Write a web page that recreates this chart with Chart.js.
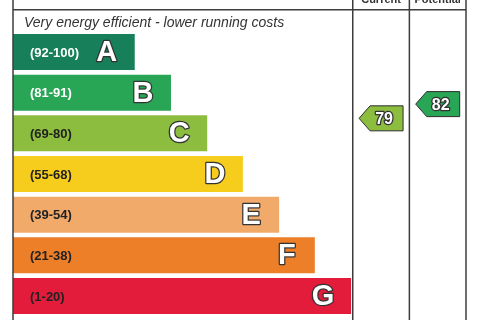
<!DOCTYPE html>
<html>
<head>
<meta charset="utf-8">
<script src="https://cdn.jsdelivr.net/npm/chart.js@4"></script>
<style>
  html, body { margin: 0; padding: 0; background: #fff; }
  #wrap { width: 480px; height: 320px; }
</style>
</head>
<body>
<div id="wrap"><canvas id="epc" width="480" height="320"></canvas></div>
<script>
/* =========================
   DATA
========================= */
const bands = ["A", "B", "C", "D", "E", "F", "G"];
const bandMin = [92, 81, 69, 55, 39, 21, 1];
const bandMax = [100, 91, 80, 68, 54, 38, 20];
const barLength = [2.15, 2.79, 3.43, 4.06, 4.70, 5.33, 5.97];

const ratingColumns = ["Current", "Potential"];
const ratingScores = [79, 82];

const topNote = "Very energy efficient - lower running costs";

/* =========================
   STYLE
========================= */
const bandColours = ["#17805a", "#29a556", "#8cbd3f", "#f6cd1d", "#f2aa6b", "#ec7f28", "#e31c3b"];
const lineColour = "#3d3d3d";
const fontFamily = '"Liberation Sans", Arial, sans-serif';
const barColumns = 6; // width of the bar area, in x units; each rating column is 1 unit

// band index of a score and its place inside that band row
function bandOf(score) {
  return bandMin.findIndex((lo, i) => score >= lo && score <= bandMax[i]);
}

function rowPosition(score) {
  const i = bandOf(score);
  const f = (score - bandMin[i] + 1) / (bandMax[i] - bandMin[i] + 1);
  return i + 0.885 * (0.5 - f);
}

const arrowPoints = ratingScores.map((s, i) => ({ x: barColumns + i + 0.5, y: rowPosition(s) }));

/* =========================
   PLUGIN: TABLE, LABELS, ARROWS
========================= */
const epcPlugin = {
  id: "epcTable",
  afterDatasetsDraw(chart) {
    const { ctx, chartArea, scales } = chart;
    const x = scales.x;
    ctx.save();

    // range labels and band letters
    const bars = chart.getDatasetMeta(0).data;
    bars.forEach((bar, i) => {
      ctx.textBaseline = "middle";
      ctx.textAlign = "left";
      ctx.font = "bold 13px " + fontFamily;
      ctx.fillStyle = i < 2 ? "#ffffff" : "#222222";
      ctx.fillText("(" + bandMin[i] + "-" + bandMax[i] + ")", bar.base + 17, bar.y + 1);

      ctx.textAlign = "center";
      ctx.font = "bold 29px " + fontFamily;
      ctx.lineJoin = "round";
      ctx.lineWidth = 2.5;
      ctx.strokeStyle = "#333333";
      ctx.strokeText(bands[i], bar.x - 28, bar.y + 1);
      ctx.fillStyle = "#ffffff";
      ctx.fillText(bands[i], bar.x - 28, bar.y + 1);
    });

    // rating arrows
    const pts = chart.getDatasetMeta(1).data;
    pts.forEach((pt, i) => {
      const cx = pt.x, cy = pt.y;
      const w = 44, h = 25, tip = 11;
      const l = cx - w / 2, r = cx + w / 2;
      ctx.beginPath();
      ctx.moveTo(l, cy);
      ctx.lineTo(l + tip, cy - h / 2);
      ctx.lineTo(r, cy - h / 2);
      ctx.lineTo(r, cy + h / 2);
      ctx.lineTo(l + tip, cy + h / 2);
      ctx.closePath();
      ctx.fillStyle = bandColours[bandOf(ratingScores[i])];
      ctx.fill();
      ctx.lineWidth = 1;
      ctx.strokeStyle = "#2d2d2d";
      ctx.stroke();

      ctx.font = "bold 16px " + fontFamily;
      ctx.textAlign = "center";
      ctx.textBaseline = "middle";
      ctx.lineWidth = 2.5;
      ctx.strokeStyle = "#333333";
      ctx.strokeText(String(ratingScores[i]), cx + 3, cy + 1);
      ctx.fillStyle = "#ffffff";
      ctx.fillText(String(ratingScores[i]), cx + 3, cy + 1);
    });

    // table lines
    const lineY = chartArea.top - 22;
    ctx.strokeStyle = lineColour;
    ctx.lineWidth = 1.5;
    [0, barColumns, barColumns + 1, barColumns + 2].forEach(v => {
      const px = x.getPixelForValue(v);
      ctx.beginPath();
      ctx.moveTo(px, 0);
      ctx.lineTo(px, chart.height);
      ctx.stroke();
    });
    ctx.beginPath();
    ctx.moveTo(x.getPixelForValue(0), lineY);
    ctx.lineTo(x.getPixelForValue(barColumns + 2), lineY);
    ctx.stroke();

    // column headers (cut at the top, like the reference)
    ctx.fillStyle = "#333333";
    ctx.font = "bold 11px " + fontFamily;
    ctx.textAlign = "center";
    ctx.textBaseline = "alphabetic";
    ratingColumns.forEach((name, i) => {
      ctx.fillText(name, x.getPixelForValue(barColumns + i + 0.5), lineY - 7);
    });

    // note above the bars
    ctx.font = "italic 14px " + fontFamily;
    ctx.textAlign = "left";
    ctx.fillText(topNote, x.getPixelForValue(0) + 11, chartArea.top - 5);

    ctx.restore();
  }
};

/* =========================
   CHART
========================= */
new Chart(document.getElementById("epc"), {
  data: {
    labels: bands,
    datasets: [
      {
        type: "bar",
        indexAxis: "y",
        data: barLength,
        backgroundColor: bandColours,
        borderWidth: 0,
        barPercentage: 0.885,
        categoryPercentage: 1,
        xAxisID: "x",
        yAxisID: "y"
      },
      {
        type: "scatter",
        data: arrowPoints,
        pointRadius: 0,
        pointHoverRadius: 0,
        xAxisID: "x",
        yAxisID: "y2"
      }
    ]
  },
  options: {
    responsive: false,
    devicePixelRatio: 1,
    animation: false,
    events: [],
    layout: { padding: { top: 31.67, bottom: 3.67, left: 13, right: 14 } },
    plugins: { legend: { display: false }, tooltip: { enabled: false } },
    scales: {
      x: { type: "linear", min: 0, max: barColumns + 2, display: false },
      y: { type: "category", labels: bands, offset: true, display: false },
      y2: { type: "linear", min: -0.5, max: bands.length - 0.5, reverse: true, display: false }
    }
  },
  plugins: [epcPlugin]
});
</script>
</body>
</html>
